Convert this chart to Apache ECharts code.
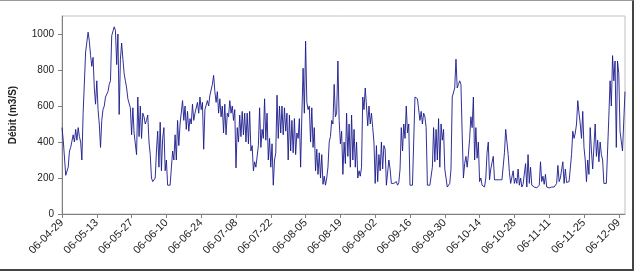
<!DOCTYPE html>
<html lang="fr">
<head>
  <meta charset="UTF-8">
  <title>Débit</title>
  <script src="https://cdn.jsdelivr.net/npm/echarts@6/dist/echarts.min.js"></script>
  <style>
    html, body {
      margin: 0;
      padding: 0;
      width: 636px;
      height: 273px;
      background: #fff;
      overflow: hidden;
    }
    #frame {
      position: absolute;
      left: 0;
      top: 0;
      width: 634px;
      height: 271px;
      box-sizing: border-box;
      border-top: 1px solid #999;
      border-right: 2px solid #444;
      border-bottom: 2px solid #444;
    }
    #main {
      position: absolute;
      left: 0;
      top: 0;
      width: 636px;
      height: 273px;
    }
  </style>
</head>
<body>
  <div id="frame"></div>
  <div id="main"></div>

  <script>
    // two readings per day (12 h step), starting 2006-04-29
    const startDate = Date.UTC(2006, 3, 29);
    const stepHours = 12;

    const tickLabels = [
      '06-04-29', '06-05-13', '06-05-27', '06-06-10', '06-06-24', '06-07-08',
      '06-07-22', '06-08-05', '06-08-19', '06-09-02', '06-09-16', '06-09-30',
      '06-10-14', '06-10-28', '06-11-11', '06-11-25', '06-12-09'
    ];

    const debit = [
      // 04-29 .. 05-12
      480, 410, 410, 215, 210, 260, 350, 370, 380, 440, 400, 470, 410, 480,
      430, 400, 300, 560, 570, 900, 900, 1010, 960, 880, 820, 870, 700, 610,
      // 05-13 .. 05-26
      740, 580, 500, 370, 520, 580, 600, 650, 640, 680, 720, 740, 990, 1000,
      1040, 1020, 830, 1000, 553, 860, 950, 860, 780, 740, 700, 640, 630, 590,
      // 05-27 .. 06-09
      440, 590, 450, 440, 330, 650, 430, 600, 420, 560, 540, 500, 520, 550,
      400, 330, 200, 180, 170, 200, 350, 460, 260, 510, 240, 420, 480, 240,
      // 06-10 .. 06-23
      300, 160, 150, 160, 256, 350, 300, 440, 300, 520, 380, 500, 500, 630,
      520, 600, 470, 570, 460, 530, 500, 610, 520, 560, 550, 620, 560, 650,
      // 06-24 .. 07-07
      580, 620, 360, 580, 580, 630, 600, 660, 650, 720, 770, 680, 620, 680,
      560, 640, 540, 600, 450, 610, 440, 560, 540, 630, 560, 600, 520, 580,
      // 07-08 .. 07-21
      256, 480, 400, 550, 430, 570, 440, 560, 400, 560, 390, 570, 350, 380,
      240, 290, 260, 250, 380, 590, 370, 470, 420, 640, 410, 560, 300, 420,
      // 07-22 .. 08-04
      260, 390, 160, 300, 340, 660, 420, 600, 450, 600, 440, 590, 460, 560,
      300, 550, 350, 520, 340, 530, 330, 450, 420, 530, 260, 550, 810, 560,
      // 08-05 .. 08-18
      960, 620, 580, 600, 400, 590, 370, 480, 240, 360, 220, 340, 200, 330,
      165, 210, 160, 200, 260, 400, 430, 520, 500, 720, 540, 560, 850, 520,
      // 08-19 .. 09-01
      390, 460, 220, 400, 280, 560, 320, 500, 260, 550, 300, 470, 260, 400,
      200, 240, 210, 260, 650, 580, 700, 600, 490, 600, 500, 560, 480, 400,
      // 09-02 .. 09-15
      170, 380, 180, 330, 240, 400, 250, 380, 360, 160, 170, 300, 250, 170,
      160, 170, 165, 180, 160, 175, 250, 480, 350, 500, 420, 600, 450, 500,
      // 09-16 .. 09-29
      160, 165, 160, 160, 650, 640, 640, 630, 520, 570, 500, 560, 540, 480,
      160, 165, 160, 170, 260, 480, 290, 470, 300, 530, 260, 500, 410, 470,
      // 09-30 .. 10-13
      250, 200, 150, 160, 170, 250, 650, 660, 700, 860, 700, 720, 740, 720,
      440, 200, 280, 320, 260, 330, 420, 540, 480, 650, 300, 480, 310, 400,
      // 10-14 .. 10-27
      180, 200, 160, 150, 150, 200, 340, 400, 190, 250, 240, 320, 190, 190,
      190, 190, 190, 190, 190, 190, 340, 470, 400, 330, 230, 170, 160, 240,
      // 10-28 .. 11-10
      170, 200, 170, 250, 160, 200, 150, 165, 160, 280, 150, 330, 170, 260,
      160, 165, 150, 155, 145, 150, 160, 290, 180, 210, 165, 220, 150, 160,
      // 11-11 .. 11-24
      145, 150, 150, 145, 150, 160, 170, 270, 180, 200, 190, 290, 170, 250,
      175, 180, 180, 190, 330, 460, 420, 450, 500, 630, 560, 500, 420, 570,
      // 11-25 .. 12-08
      370, 300, 180, 300, 220, 480, 350, 250, 240, 500, 320, 410, 290, 400,
      330, 300, 170, 170, 170, 175, 540, 740, 600, 880, 740, 850, 370, 850,
      // 12-09 .. 12-11
      780, 460, 460, 350, 360, 680
    ];

    function fmtDate(ms) {
      const d = new Date(ms);
      const yy = String(d.getUTCFullYear()).slice(2);
      const mm = String(d.getUTCMonth() + 1).padStart(2, '0');
      const dd = String(d.getUTCDate()).padStart(2, '0');
      return yy + '-' + mm + '-' + dd;
    }

    const categories = debit.map((v, i) => fmtDate(startDate + i * stepHours * 3600 * 1000));
    const isTick = (index, value) => index % 2 === 0 && tickLabels.indexOf(value) !== -1;

    const chart = echarts.init(document.getElementById('main'), null, { renderer: 'canvas' });

    const option = {
      animation: false,
      backgroundColor: 'transparent',
      grid: {
        left: 62,
        right: 11,
        top: 16,
        bottom: 59,
        containLabel: false,
        show: true,
        borderColor: '#c0c0c0',
        borderWidth: 1,
        backgroundColor: '#fff'
      },
      xAxis: {
        type: 'category',
        data: categories,
        boundaryGap: false,
        axisLine: { lineStyle: { color: '#808080', width: 1 } },
        axisTick: {
          show: true,
          length: 4,
          interval: isTick,
          lineStyle: { color: '#808080' }
        },
        axisLabel: {
          interval: isTick,
          rotate: 45,
          margin: 7,
          fontFamily: 'Liberation Sans, Arial, sans-serif',
          fontSize: 11,
          color: '#222'
        },
        splitLine: { show: false }
      },
      yAxis: {
        type: 'value',
        min: 0,
        max: 1100,
        interval: 200,
        name: 'Débit (m3/S)',
        nameLocation: 'middle',
        nameGap: 44,
        nameTextStyle: {
          fontFamily: 'Liberation Sans, Arial, sans-serif',
          fontSize: 10,
          fontWeight: 'bold',
          color: '#222'
        },
        axisLine: { show: true, lineStyle: { color: '#808080', width: 1 } },
        axisTick: { show: true, length: 4, lineStyle: { color: '#808080' } },
        axisLabel: {
          margin: 8,
          showMaxLabel: false,
          fontFamily: 'Liberation Sans, Arial, sans-serif',
          fontSize: 10,
          color: '#222',
          formatter: v => (v > 1000 ? '' : String(v))
        },
        splitLine: { show: false }
      },
      series: [
        {
          type: 'line',
          data: debit,
          showSymbol: false,
          symbol: 'none',
          lineStyle: { color: '#1a1a8c', width: 0.9 },
          emphasis: { disabled: true }
        }
      ]
    };

    chart.setOption(option);
    window.addEventListener('resize', () => chart.resize());
  </script>
</body>
</html>
